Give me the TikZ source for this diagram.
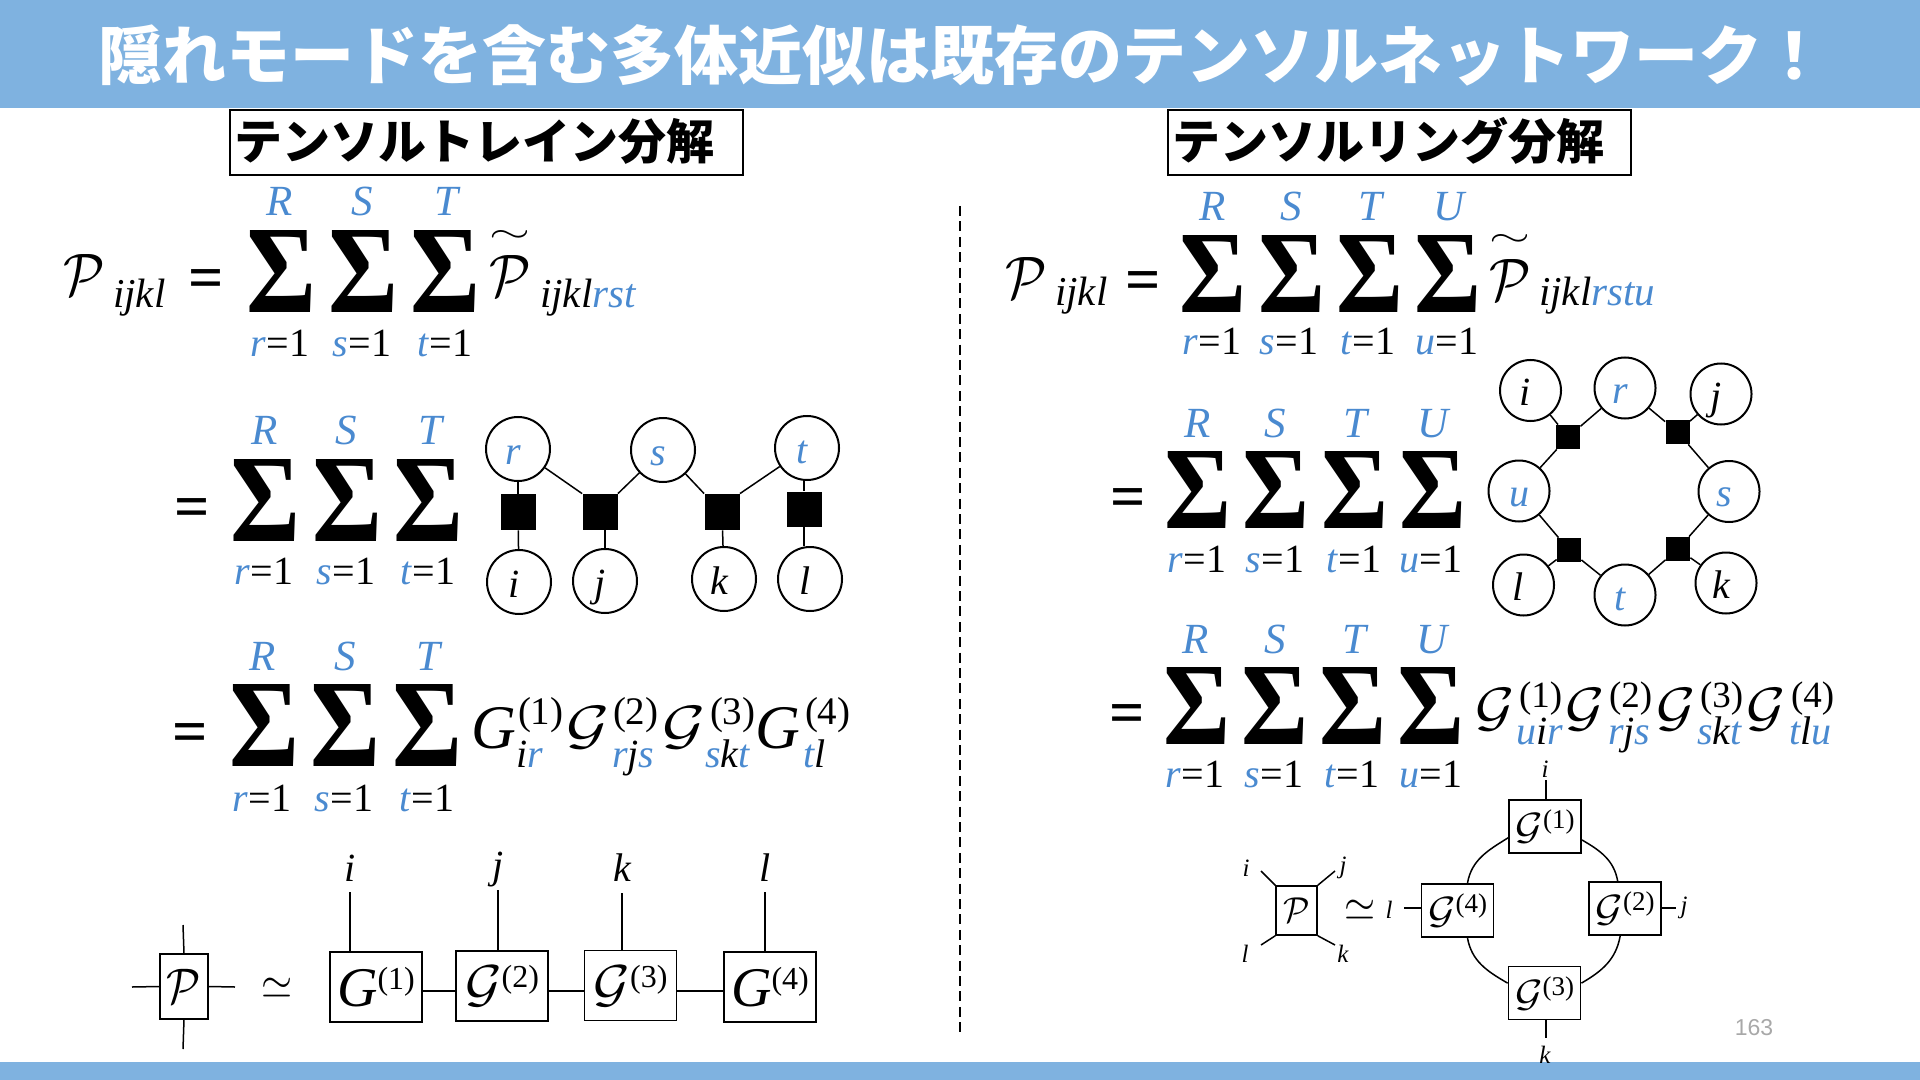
\documentclass[tikz,border=0pt]{standalone}
\usepackage{graphicx}
\usepackage{fontspec}
\setmainfont{Liberation Serif}
\newfontfamily\jpfont{Noto Sans CJK JP}
\newfontfamily\pnfont{Liberation Sans}
\definecolor{band}{HTML}{7FB2E0}
\definecolor{accent}{HTML}{4A8AD0}
\definecolor{pagegray}{HTML}{A8A8A8}
\newcommand\fsz[1]{\fontsize{#1}{#1}\selectfont}
\newcommand\CalP[2]{\scalebox{#1}[#2]{\fsz{10}$\mathcal{P}$}}
\newcommand\CalG[2]{\scalebox{#1}[#2]{\fsz{10}$\mathcal{G}$}}
\newcommand\SimGlyph{\scalebox{2}[2.2]{\fsz{10}$\simeq$}}
\newcommand\SigmaGlyph{\resizebox*{\sumw pt}{\sumh pt}{\fsz{40}\bfseries Σ}}
\newcommand\blue[1]{\textcolor{accent}{#1}}
\newcommand\SumCol[9]{%
  \node[sumglyph] (#1) at (#2,#3) {\SigmaGlyph};
  \node[upperlabel] (#1-u) at (#4,#5) {\blue{#6}};
  \node[lowerlabel] (#1-l) at (#7,#8) {\blue{\textit{#9}}=1};
}
\newcommand\TildeP[3]{%
  \node[plain] (#1-p) at (#2,#3) {\CalP{2.67}{3}};
  \node[plain] (#1-t) at (#2,#3-39) {\resizebox{20.5pt}{6pt}{$\sim$}};
}
\tikzset{
  plain/.style={inner sep=0pt,outer sep=0pt},
  sumglyph/.style={plain},
  upperlabel/.style={plain,anchor=base,font=\itshape\fsz{21.5}},
  lowerlabel/.style={plain,anchor=base,font=\fsz{20}},
  eqsign/.style={plain,font=\bfseries\fsz{31},yshift=-3.5pt},
  subidx/.style={plain,anchor=base west,font=\itshape\fsz{20.5}},
  termsup/.style={plain,anchor=base west,font=\fsz{19.5}},
  termsub/.style={plain,anchor=base west,font=\itshape\fsz{20}},
  wire/.style={line width=.75pt,black},
  leftcircle/.style={circle,draw=black,line width=1pt,fill=white,minimum size=32pt,inner sep=0pt,font=\itshape\fsz{20},text height=15pt,text depth=0pt},
  ringcircle/.style={circle,draw=black,line width=1pt,fill=white,minimum size=30.5pt,inner sep=0pt,font=\itshape\fsz{20},text height=15pt,text depth=0pt},
  bigsquare/.style={rectangle,fill=black,inner sep=0pt,minimum width=17.5pt,minimum height=18pt},
  smallsquare/.style={rectangle,fill=black,inner sep=0pt,minimum size=12pt},
  headbox/.style={rectangle,draw=black,line width=1pt,fill=white,inner sep=0pt,minimum height=32.5pt},
  headtext/.style={plain,anchor=west,font=\jpfont\bfseries\fsz{24}},
  tbox/.style={rectangle,draw=black,line width=.75pt,fill=white,inner sep=0pt,minimum width=46pt,minimum height=35pt,font=\fsz{16}},
  rbox/.style={rectangle,draw=black,line width=.9pt,fill=white,inner sep=0pt,minimum width=36pt,minimum height=26.5pt,font=\fsz{13.5}},
  idxbig/.style={plain,font=\itshape\fsz{20}},
  idxsmall/.style={plain,font=\itshape\fsz{12.5}},
}
\newcommand\Ltr[1]{\hspace*{-5pt}#1}
\begin{document}
\begin{tikzpicture}[x=0.5pt,y=-0.5pt]
\useasboundingbox (0,0) rectangle (1920,1080);
% bands
\fill[band] (0,0) rectangle (1920,108);
\fill[band] (0,1062) rectangle (1920,1080);
\node[plain,text=white,font=\jpfont\bfseries\fsz{32}] (title) at (962,55) {隠れモードを含む多体近似は既存のテンソルネットワーク！};
% headers
\node[headbox,minimum width=256.5pt] (headL) at (486.5,142.5) {};
\node[headtext] (headLt) at (234,141) {テンソルトレイン分解};
\node[headbox,minimum width=231.5pt] (headR) at (1399.5,142.5) {};
\node[headtext] (headRt) at (1172,141) {テンソルリング分解};
% divider
\coordinate (divtop) at (960,206);
\coordinate (divbot) at (960,1035);
\draw[line width=1.4pt,dash pattern=on 5pt off 2.7pt] (divtop) -- (divbot);

% ---- left eq 1
\def\sumw{35}\def\sumh{41}
\node[plain] (lP) at (84,275) {\CalP{2.67}{3}};
\node[subidx] (lPi) at (113,307) {ijkl};
\node[eqsign] (leq1) at (206,277) {=};
\SumCol{la1}{281}{272}{280}{216}{R}{280}{357}{r}
\SumCol{la2}{363}{272}{362}{216}{S}{362}{357}{s}
\SumCol{la3}{445}{272}{446}{216}{T}{445}{357}{t}
\TildeP{ltp}{510}{276}
\node[subidx] (ltpi) at (540,307) {ijkl\blue{rst}};

% ---- left eq 2
\node[eqsign] (leq2) at (192,506) {=};
\SumCol{lb1}{265}{500}{265}{444}{R}{264}{584}{r}
\SumCol{lb2}{347}{500}{346}{444}{S}{346}{584}{s}
\SumCol{lb3}{428}{500}{430}{444}{T}{428}{584}{t}
\node[leftcircle,text=accent] (cr) at (518,449) {\Ltr{r}};
\node[leftcircle,text=accent] (cs) at (663,450) {\Ltr{s}};
\node[leftcircle,text=accent] (ct) at (807,448) {\Ltr{t}};
\node[leftcircle] (ci) at (519,582) {\Ltr{i}};
\node[leftcircle] (cj) at (605,581) {\Ltr{j}};
\node[leftcircle] (ck) at (724,579) {\Ltr{k}};
\node[leftcircle] (cl) at (810,579) {\Ltr{l}};
\node[bigsquare] (q1) at (518,512) {};
\node[bigsquare] (q2) at (600,512) {};
\node[bigsquare] (q3) at (722,512) {};
\node[bigsquare,minimum height=17.5pt] (q4) at (804,509) {};
\draw[wire] (cr) -- (q1);
\draw[wire] (q1) -- (ci);
\draw[wire] (cr) -- (q2.north west);
\draw[wire] (cs) -- (q2.north east);
\draw[wire] (q2.south) ++(5,0) -- (cj.north);
\draw[wire] (cs) -- (q3.north west);
\draw[wire] (ct) -- (q3.north east);
\draw[wire] (q3) -- (ck);
\draw[wire] (q4.north) -- (q4.north|-ct.south);
\draw[wire] (q4.south) -- (q4.south|-cl.north);

% ---- left eq 3
\node[eqsign] (leq3) at (190,731) {=};
\SumCol{lc1}{264}{725}{263}{670}{R}{262}{811}{r}
\SumCol{lc2}{345}{725}{345}{670}{S}{344}{811}{s}
\SumCol{lc3}{427}{725}{428}{670}{T}{427}{811}{t}
\node[plain,font=\itshape\fsz{31}] (t1) at (494,728) {G};
\node[termsup] (t1s) at (518,724) {(1)};
\node[termsub] (t1b) at (516,767) {i\blue{r}};
\node[plain] (t2) at (588,728) {\CalG{3.3}{2.7}};
\node[termsup] (t2s) at (613,724) {(2)};
\node[termsub] (t2b) at (612,767) {\blue{r}j\blue{s}};
\node[plain] (t3) at (684,728) {\CalG{3.3}{2.7}};
\node[termsup] (t3s) at (710,724) {(3)};
\node[termsub] (t3b) at (705,767) {\blue{s}k\blue{t}};
\node[plain,font=\itshape\fsz{31}] (t4) at (778,728) {G};
\node[termsup] (t4s) at (805,724) {(4)};
\node[termsub] (t4b) at (803,767) {\blue{t}l};

% ---- left bottom network
\node[rectangle,draw=black,line width=.75pt,fill=white,inner sep=0pt,minimum width=24pt,minimum height=32.5pt] (pbox) at (184,986.5) {\CalP{2.2}{2.5}};
\coordinate (pn) at (183,925); \coordinate (ps) at (183,1049);
\coordinate (pw) at (132,987); \coordinate (pe) at (235,987);
\draw[wire] (pbox.north) -- (pn);
\draw[wire] (pbox.south) -- (ps);
\draw[wire] (pbox.west) -- (pw);
\draw[wire] (pbox.east) -- (pe);
\node[plain] (sim1) at (277,988) {\SimGlyph};
\node[tbox] (g1) at (376,987) {\fsz{28}\itshape G\raisebox{8.5pt}{\fsz{16}\upshape(1)}};
\node[tbox] (g2) at (502,986) {\CalG{2.8}{2.6}\raisebox{7pt}{(2)}};
\node[tbox] (g3) at (630.5,985.5) {\CalG{2.8}{2.6}\raisebox{7pt}{(3)}};
\node[tbox] (g4) at (770,987) {\fsz{28}\itshape G\raisebox{8.5pt}{\fsz{16}\upshape(4)}};
\draw[line width=1pt] (g1.east|-0,991) -- (g2.west|-0,991);
\draw[line width=1pt] (g2.east|-0,991) -- (g3.west|-0,991);
\draw[line width=1pt] (g3.east|-0,991) -- (g4.west|-0,991);
\node[idxbig] (li) at (350,868) {i};
\node[idxbig] (lj) at (498,870) {j};
\node[idxbig] (lk) at (622,868) {k};
\node[idxbig] (ll) at (765,868) {l};
\draw[wire] (g1.north-|li) -- ++(0,-59);
\draw[wire] (g2.north-|lj) -- ++(0,-60);
\draw[wire] (g3.north-|lk) -- ++(0,-57);
\draw[wire] (g4.north-|ll) -- ++(0,-59);

% ---- right eq 1
\def\sumw{33.5}\def\sumh{38.5}
\node[plain] (rP) at (1026,278) {\CalP{2.67}{3}};
\node[subidx] (rPi) at (1055,306) {ijkl};
\node[eqsign] (req1) at (1143,279) {=};
\SumCol{ra1}{1213}{274}{1213}{221}{R}{1212}{355}{r}
\SumCol{ra2}{1292}{274}{1291}{221}{S}{1289}{355}{s}
\SumCol{ra3}{1370}{274}{1370}{221}{T}{1368}{355}{t}
\SumCol{ra4}{1448}{274}{1449}{221}{U}{1447}{355}{u}
\TildeP{rtp}{1510}{280}
\node[subidx] (rtpi) at (1539,306) {ijkl\blue{rstu}};

% ---- right eq 2
\node[eqsign] (req2) at (1128,496) {=};
\SumCol{rb1}{1198}{490}{1198}{437}{R}{1197}{572}{r}
\SumCol{rb2}{1276}{490}{1275}{437}{S}{1275}{572}{s}
\SumCol{rb3}{1355}{490}{1355}{437}{T}{1354}{572}{t}
\SumCol{rb4}{1433}{490}{1433}{437}{U}{1431}{572}{u}
\node[ringcircle] (ri) at (1530.5,390.5) {\Ltr{i}};
\node[ringcircle,text=accent] (rr) at (1625,388) {\Ltr{r}};
\node[ringcircle] (rj) at (1721,394) {\Ltr{j}};
\node[ringcircle,text=accent] (ru) at (1519,491) {u};
\node[ringcircle,text=accent] (rs) at (1729,491.5) {\Ltr{s}};
\node[ringcircle] (rl) at (1523.5,585) {\Ltr{l}};
\node[ringcircle,text=accent] (rt) at (1625,595) {\Ltr{t}};
\node[ringcircle] (rk) at (1726,583) {\Ltr{k}};
\node[smallsquare] (sa) at (1568,437) {};
\node[smallsquare] (sb) at (1677.5,432) {};
\node[smallsquare] (sc) at (1569,550) {};
\node[smallsquare] (sd) at (1678,549) {};
\draw[wire] (ri) -- (sa);
\draw[wire] (sa) -- (rr);
\draw[wire] (rr) -- (sb);
\draw[wire] (sb) -- (rj);
\draw[wire] (sb) -- (rs);
\draw[wire] (sa) -- (ru);
\draw[wire] (ru) -- (sc);
\draw[wire] (sc) -- (rl);
\draw[wire] (sc) -- (rt);
\draw[wire] (rt) -- (sd);
\draw[wire] (sd) -- (rk);
\draw[wire] (sd) -- (rs);

% ---- right eq 3
\node[eqsign] (req3) at (1127,712) {=};
\SumCol{rc1}{1197}{705.5}{1196}{653}{R}{1195}{787}{r}
\SumCol{rc2}{1275}{705.5}{1275}{653}{S}{1274}{787}{s}
\SumCol{rc3}{1353}{705.5}{1354}{653}{T}{1352}{787}{t}
\SumCol{rc4}{1431}{705.5}{1432}{653}{U}{1431}{787}{u}
\node[plain] (u1) at (1495,710) {\CalG{3}{2.7}};
\node[termsup,font=\fsz{18.5}] (u1s) at (1519,707) {(1)};
\node[termsub] (u1b) at (1516,744) {\blue{u}i\blue{r}};
\node[plain] (u2) at (1585,710) {\CalG{3}{2.7}};
\node[termsup,font=\fsz{18.5}] (u2s) at (1609,707) {(2)};
\node[termsub] (u2b) at (1608,744) {\blue{r}j\blue{s}};
\node[plain] (u3) at (1676,710) {\CalG{3}{2.7}};
\node[termsup,font=\fsz{18.5}] (u3s) at (1700,707) {(3)};
\node[termsub] (u3b) at (1697,744) {\blue{s}k\blue{t}};
\node[plain] (u4) at (1766,710) {\CalG{3}{2.7}};
\node[termsup,font=\fsz{18.5}] (u4s) at (1791,707) {(4)};
\node[termsub] (u4b) at (1789,744) {\blue{t}l\blue{u}};

% ---- right bottom network
\node[rectangle,draw=black,line width=.75pt,fill=white,inner sep=0pt,minimum width=20.5pt,minimum height=24.5pt] (pr) at (1296.5,910.5) {\CalP{1.7}{1.8}};
\node[idxsmall] (pri) at (1246,868) {i};
\node[idxsmall] (prj) at (1343,868) {j};
\node[idxsmall] (prl) at (1245,954) {l};
\node[idxsmall] (prk) at (1343,954) {k};
\coordinate (ptl) at (1261,871); \coordinate (ptr) at (1335,871);
\coordinate (pbl) at (1261,945); \coordinate (pbr) at (1335,945);
\draw[wire] (pr.north west) -- (ptl);
\draw[wire] (pr.north east) -- (ptr);
\draw[wire] (pr.south west) -- (pbl);
\draw[wire] (pr.south east) -- (pbr);
\node[plain] (sim2) at (1360,910) {\SimGlyph};
\node[rbox] (h1) at (1545,826.5) {\CalG{2.1}{1.9}\raisebox{5.5pt}{(1)}};
\node[rbox] (h2) at (1625,908.5) {\CalG{2.1}{1.9}\raisebox{5.5pt}{(2)}};
\node[rbox] (h3) at (1544.5,993) {\CalG{2.1}{1.9}\raisebox{5.5pt}{(3)}};
\node[rbox] (h4) at (1457.5,910.5) {\CalG{2.1}{1.9}\raisebox{5.5pt}{(4)}};
\draw[wire] (h1.197) to[out=212,in=80] (h4.70);
\draw[wire] (h1.-20) to[out=-30,in=100] (h2.105);
\draw[wire] (h4.-70) to[out=-80,in=150] (h3.165);
\draw[wire] (h3.15) to[out=30,in=-100] (h2.-100);
\node[idxsmall] (hl) at (1389,910) {l};
\node[idxsmall] (hj) at (1684,908) {j};
\node[idxsmall] (hi) at (1545,769) {i};
\node[idxsmall] (hk) at (1545,1055) {k};
\coordinate (hls) at (1404,908); \coordinate (hjs) at (1676,908);
\coordinate (his) at (1546,780); \coordinate (hks) at (1546,1038);
\draw[wire] (h4.west|-hls) -- (hls);
\draw[wire] (h2.east|-hjs) -- (hjs);
\draw[wire] (h1.north-|his) -- (his);
\draw[wire] (h3.south-|hks) -- (hks);
% page number
\node[plain,text=pagegray,font=\pnfont\fsz{11.5}] (page) at (1754,1028) {163};
\end{tikzpicture}
\end{document}
